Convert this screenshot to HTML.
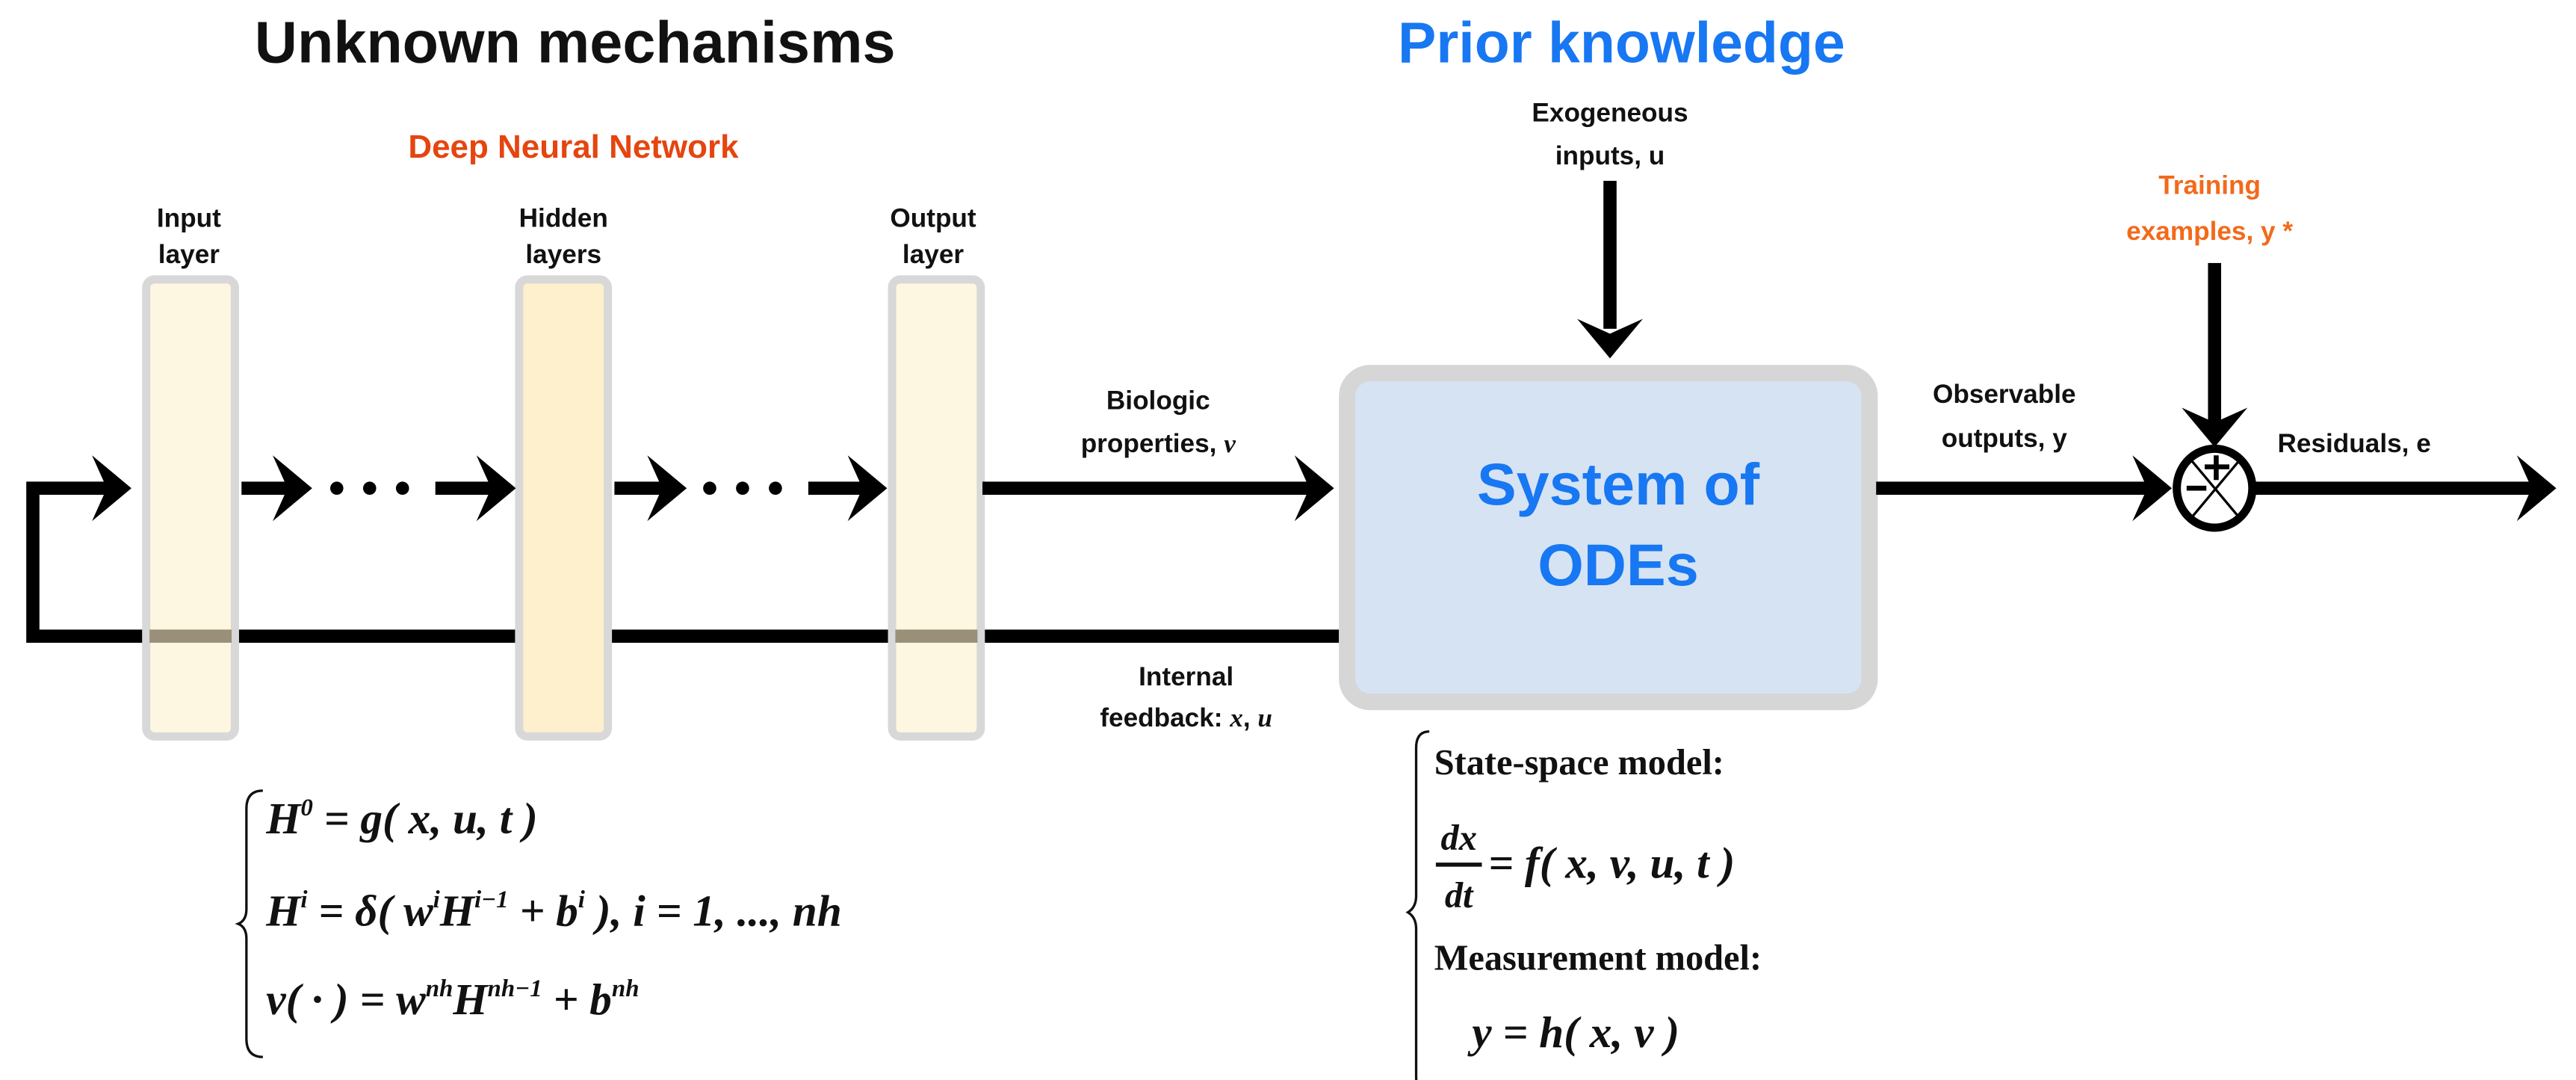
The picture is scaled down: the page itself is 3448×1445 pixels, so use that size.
<!DOCTYPE html>
<html><head><meta charset="utf-8"><style>
html,body{margin:0;padding:0;background:#fff;}
svg{display:block;}
.l{font-family:"Liberation Sans Narrow","Liberation Sans",sans-serif;font-weight:bold;fill:#111;font-size:16px;text-anchor:middle;}
.m{font-family:"Liberation Serif",serif;font-weight:bold;font-style:italic;fill:#111;}
</style></head><body>
<svg width="3448" height="1445" viewBox="0 0 1568 657" preserveAspectRatio="none">
<defs>
<g id="ah"><polygon points="0,0 -24,-20 -15,0 -24,20"/></g>
</defs>
<text x="350" y="38" style="font-family:'Liberation Sans',sans-serif;font-weight:bold;font-size:36px;text-anchor:middle;fill:#111">Unknown mechanisms</text>
<text x="987" y="38" style="font-family:'Liberation Sans',sans-serif;font-weight:bold;font-size:35px;text-anchor:middle;fill:#1877f2">Prior knowledge</text>
<text x="349" y="96" class="l" style="fill:#e5450f;font-size:20px">Deep Neural Network</text>

<text x="115" y="138" class="l">Input</text><text x="115" y="160" class="l">layer</text>
<text x="343" y="138" class="l">Hidden</text><text x="343" y="160" class="l">layers</text>
<text x="568" y="138" class="l">Output</text><text x="568" y="160" class="l">layer</text>

<polyline points="815,387 20,387 20,297 70,297" fill="none" stroke="#000" stroke-width="8"/>
<use href="#ah" x="80" y="297"/>
<rect x="89" y="170" width="54" height="278" rx="5" fill="#fdf6e1" stroke="#d8d8d8" stroke-width="5"/>
<rect x="316" y="170" width="54" height="278" rx="5" fill="#fef0cc" stroke="#d8d8d8" stroke-width="5"/>
<rect x="543" y="170" width="54" height="278" rx="5" fill="#fdf6e1" stroke="#d8d8d8" stroke-width="5"/>
<rect x="91" y="383" width="50" height="8" fill="#9a8f78"/>
<rect x="545" y="383" width="50" height="8" fill="#9a8f78"/>
<g fill="#000">
<rect x="147" y="293" width="30" height="8"/><use href="#ah" x="190" y="297"/>
<circle cx="205" cy="297" r="4"/><circle cx="225" cy="297" r="4"/><circle cx="245" cy="297" r="4"/>
<rect x="265" y="293" width="35" height="8"/><use href="#ah" x="314" y="297"/>
<rect x="374" y="293" width="30" height="8"/><use href="#ah" x="418" y="297"/>
<circle cx="432" cy="297" r="4"/><circle cx="452" cy="297" r="4"/><circle cx="472" cy="297" r="4"/>
<rect x="492" y="293" width="35" height="8"/><use href="#ah" x="540" y="297"/>
<rect x="598" y="293" width="200" height="8"/><use href="#ah" x="812" y="297"/>
</g>
<text x="705" y="249" class="l">Biologic</text>
<text x="705" y="275" class="l">properties, <tspan style="font-family:'Liberation Serif',serif;font-style:italic">v</tspan></text>
<text x="722" y="417" class="l">Internal</text>
<text x="722" y="442" class="l">feedback: <tspan style="font-family:'Liberation Serif',serif;font-style:italic">x</tspan>, <tspan style="font-family:'Liberation Serif',serif;font-style:italic">u</tspan></text>

<rect x="820" y="227" width="318" height="200" rx="14" fill="#d6e3f3" stroke="#d6d6d6" stroke-width="10"/>
<text x="985" y="307" style="font-family:'Liberation Sans',sans-serif;font-weight:bold;font-size:36px;text-anchor:middle;fill:#1877f2">System of</text>
<text x="985" y="356" style="font-family:'Liberation Sans',sans-serif;font-weight:bold;font-size:36px;text-anchor:middle;fill:#1877f2">ODEs</text>

<text x="980" y="74" class="l">Exogeneous</text>
<text x="980" y="100" class="l">inputs, u</text>
<rect x="976" y="110" width="8" height="90" fill="#000"/>
<use href="#ah" transform="translate(980,218) rotate(90)"/>

<text x="1220" y="245" class="l">Observable</text>
<text x="1220" y="272" class="l">outputs, y</text>
<rect x="1142" y="293" width="165" height="8" fill="#000"/><use href="#ah" x="1322" y="297"/>

<text x="1345" y="118" class="l" style="fill:#f26a1b">Training</text>
<text x="1345" y="146" class="l" style="fill:#f26a1b">examples, y *</text>
<rect x="1344" y="160" width="8" height="98" fill="#000"/>
<use href="#ah" transform="translate(1348,272) rotate(90)"/>

<g stroke="#000">
<ellipse cx="1348" cy="297" rx="23" ry="24" fill="#fff" stroke-width="5"/>
<line x1="1333" y1="279" x2="1364" y2="316" stroke-width="1.5"/>
<line x1="1364" y1="279" x2="1333" y2="316" stroke-width="1.5"/>
<line x1="1342" y1="284" x2="1357" y2="284" stroke-width="3"/>
<line x1="1349" y1="277" x2="1349" y2="292" stroke-width="3"/>
<line x1="1331" y1="297" x2="1343" y2="297" stroke-width="3"/>
</g>
<text x="1433" y="275" class="l">Residuals, e</text>
<rect x="1372" y="293" width="170" height="8" fill="#000"/><use href="#ah" x="1556" y="297"/>

<path d="M160,481 Q150,481 150,492 L150,553 Q150,560 145,562 Q150,564 150,571 L150,632 Q150,643 160,643" fill="none" stroke="#111" stroke-width="1.5"/>
<text x="162" y="507" class="m" style="font-size:27px">H<tspan dy="-11" font-size="15">0</tspan><tspan dy="11"> = g( x, u, t )</tspan></text>
<text x="162" y="563" class="m" style="font-size:27px">H<tspan dy="-11" font-size="15">i</tspan><tspan dy="11"> = δ( w</tspan><tspan dy="-11" font-size="15">i</tspan><tspan dy="11">H</tspan><tspan dy="-11" font-size="15">i−1</tspan><tspan dy="11"> + b</tspan><tspan dy="-11" font-size="15">i</tspan><tspan dy="11"> ), i = 1, ..., nh</tspan></text>
<text x="162" y="617" class="m" style="font-size:27px">v( · ) = w<tspan dy="-11" font-size="15">nh</tspan><tspan dy="11">H</tspan><tspan dy="-11" font-size="15">nh−1</tspan><tspan dy="11"> + b</tspan><tspan dy="-11" font-size="15">nh</tspan></text>

<path d="M870,445 Q862,445 862,455 L862,545 Q862,552 857,555 Q862,558 862,565 L862,655 Q862,665 870,665" fill="none" stroke="#111" stroke-width="1.5"/>
<text x="873" y="471" class="m" style="font-size:22px;font-style:normal">State-space model:</text>
<text x="888" y="517" class="m" style="font-size:22px;text-anchor:middle">dx</text>
<line x1="874" y1="526" x2="902" y2="526" stroke="#111" stroke-width="2.5"/>
<text x="888" y="552" class="m" style="font-size:22px;text-anchor:middle">dt</text>
<text x="906" y="534" class="m" style="font-size:27px">= f( x, v, u, t )</text>
<text x="873" y="590" class="m" style="font-size:22px;font-style:normal">Measurement model:</text>
<text x="896" y="637" class="m" style="font-size:27px">y = h( x, v )</text>
</svg>
</body></html>
